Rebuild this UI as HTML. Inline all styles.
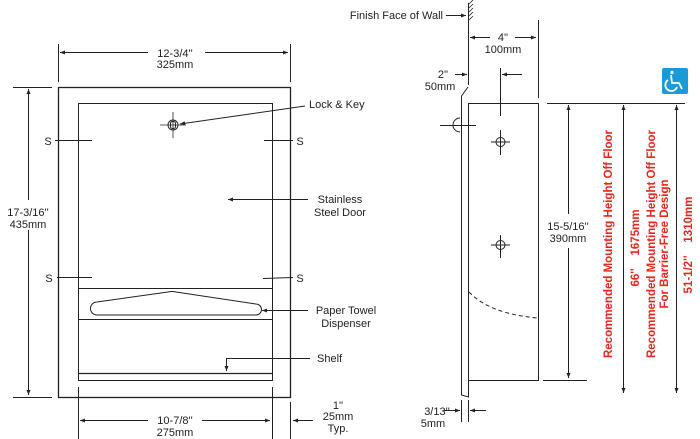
<!DOCTYPE html>
<html><head><meta charset="utf-8"><style>
html,body{margin:0;padding:0;background:#fff;}
svg{display:block;}
text{font-family:"Liberation Sans",sans-serif;font-size:11px;fill:#222;}
.r{fill:#e8261c;font-weight:bold;font-size:11.5px;white-space:pre;}
</style></head><body>
<svg width="700" height="439" viewBox="0 0 700 439" xmlns="http://www.w3.org/2000/svg">
<defs>
<marker id="a" viewBox="0 0 10 10" refX="10" refY="5" markerWidth="7" markerHeight="5" orient="auto-start-reverse" markerUnits="userSpaceOnUse"><path d="M0,1 L10,5 L0,9 z" fill="#222"/></marker>
</defs>
<g stroke="#222" fill="none" stroke-width="1">
<rect x="58.5" y="87.5" width="232" height="310" stroke-width="1.3"/>
<rect x="78.5" y="103.5" width="194" height="277"/>
<line x1="78" y1="288.5" x2="272" y2="288.5"/>
<line x1="78" y1="319.5" x2="272" y2="319.5"/>
<line x1="78" y1="373.5" x2="272" y2="373.5" stroke-width="1.3"/>
<path d="M97,302 L168,292 Q172,291 176,292 L256,304 A5.5,5.5 0 0 1 256,315 L97,315 A6.5,6.5 0 0 1 97,302 Z"/>
<circle cx="173" cy="125" r="5"/>
<rect x="170.5" y="121.5" width="5" height="7" rx="2"/>
<line x1="160" y1="125" x2="186" y2="125" stroke-width="0.8"/>
<line x1="173" y1="112" x2="173" y2="138" stroke-width="0.8"/>
<line x1="55" y1="140.5" x2="92" y2="140.5"/><line x1="264" y1="140.5" x2="293" y2="140.5"/>
<line x1="57" y1="277.5" x2="92" y2="277.5"/><line x1="263" y1="278.5" x2="293" y2="277.5"/>
<line x1="58.5" y1="44" x2="58.5" y2="82"/><line x1="290.5" y1="44" x2="290.5" y2="82"/>
<line x1="60" y1="52.5" x2="148" y2="52.5" marker-start="url(#a)"/>
<line x1="205" y1="52.5" x2="288" y2="52.5" marker-end="url(#a)"/>
<line x1="13" y1="87.5" x2="52" y2="87.5"/><line x1="13" y1="397.5" x2="52" y2="397.5"/>
<line x1="28.5" y1="89" x2="28.5" y2="200" marker-start="url(#a)"/>
<line x1="28.5" y1="230" x2="28.5" y2="395" marker-end="url(#a)"/>
<line x1="78.5" y1="387" x2="78.5" y2="439"/><line x1="272.5" y1="387" x2="272.5" y2="439"/>
<line x1="80" y1="420.5" x2="148" y2="420.5" marker-start="url(#a)"/>
<line x1="202" y1="420.5" x2="270" y2="420.5" marker-end="url(#a)"/>
<line x1="290.5" y1="402" x2="290.5" y2="439"/>
<line x1="313" y1="420.5" x2="293" y2="420.5" marker-end="url(#a)"/>
<line x1="305" y1="106" x2="180" y2="124" marker-end="url(#a)"/>
<line x1="308" y1="199.5" x2="228" y2="199.5" marker-end="url(#a)"/>
<line x1="308" y1="310.5" x2="262" y2="310.5" marker-end="url(#a)"/>
<polyline points="310,358.5 226.5,358.5 226.5,371" marker-end="url(#a)"/>
<line x1="468.5" y1="3" x2="468.5" y2="85"/>
<path d="M469,4 l4,-4 M469,8 l4,-4 M469,12 l4,-4 M469,16 l4,-4 M469,20 l4,-4" stroke-width="0.8"/>
<line x1="446" y1="15.5" x2="466" y2="15.5" marker-end="url(#a)"/>
<line x1="538.5" y1="20" x2="538.5" y2="98"/>
<line x1="470" y1="37.5" x2="490" y2="37.5" marker-start="url(#a)"/>
<line x1="515" y1="37.5" x2="536" y2="37.5" marker-end="url(#a)"/>
<line x1="455" y1="74.5" x2="467" y2="74.5" marker-end="url(#a)"/>
<line x1="522" y1="74.5" x2="502" y2="74.5" marker-end="url(#a)"/>
<line x1="500.5" y1="68" x2="500.5" y2="116"/>
<rect x="468.5" y="103.5" width="70" height="277"/>
<path d="M468,87 L461.5,96 L461.5,395 L468.5,397 L468.5,380"/>
<path d="M460,118 A7,7 0 0 0 460,132"/>
<line x1="440" y1="125.5" x2="476" y2="125.5"/>
<circle cx="500.5" cy="142" r="4.5"/>
<line x1="491" y1="142" x2="510" y2="142"/><line x1="500.5" y1="130" x2="500.5" y2="155"/>
<circle cx="500.5" cy="245" r="4.5"/>
<line x1="491" y1="245" x2="510" y2="245"/><line x1="500.5" y1="235" x2="500.5" y2="258"/>
<path d="M469,292 Q490,314 538,318" stroke-dasharray="4,3"/>
<line x1="547" y1="103.5" x2="685" y2="103.5"/>
<line x1="543" y1="380.5" x2="587" y2="380.5"/>
<line x1="568.5" y1="214" x2="568.5" y2="105" marker-end="url(#a)"/>
<line x1="568.5" y1="248" x2="568.5" y2="378" marker-end="url(#a)"/>
<line x1="623.5" y1="393" x2="623.5" y2="105" marker-start="url(#a)" marker-end="url(#a)"/>
<line x1="676.5" y1="393" x2="676.5" y2="105" marker-start="url(#a)" marker-end="url(#a)"/>
<line x1="461.5" y1="400" x2="461.5" y2="422"/><line x1="468.5" y1="400" x2="468.5" y2="422"/>
<line x1="444" y1="410.5" x2="460" y2="410.5" marker-end="url(#a)"/>
<line x1="486" y1="410.5" x2="470" y2="410.5" marker-end="url(#a)"/>
</g>
<rect x="662" y="68" width="26" height="26" rx="2" fill="#1a9ad6"/>
<g stroke="#fff" fill="none" stroke-width="1.8">
<circle cx="672" cy="72.5" r="1.6" fill="#fff" stroke="none"/>
<path d="M671,75 L672,83 L679,83 L682,89"/>
<path d="M668,80 A6,6 0 1 0 677,87"/>
</g>
<text x="175" y="57" text-anchor="middle">12-3/4''</text>
<text x="175" y="68" text-anchor="middle">325mm</text>
<text x="28" y="216" text-anchor="middle">17-3/16''</text>
<text x="28" y="228" text-anchor="middle">435mm</text>
<text x="48" y="145" text-anchor="middle">S</text><text x="300" y="145" text-anchor="middle">S</text>
<text x="49" y="282" text-anchor="middle">S</text><text x="300" y="282" text-anchor="middle">S</text>
<text x="309" y="108">Lock &amp; Key</text>
<text x="340" y="203" text-anchor="middle">Stainless</text>
<text x="340" y="216" text-anchor="middle">Steel Door</text>
<text x="346" y="314" text-anchor="middle">Paper Towel</text>
<text x="346" y="327" text-anchor="middle">Dispenser</text>
<text x="317" y="362">Shelf</text>
<text x="175" y="424" text-anchor="middle">10-7/8''</text>
<text x="175" y="436" text-anchor="middle">275mm</text>
<text x="338" y="409" text-anchor="middle">1''</text>
<text x="338" y="420" text-anchor="middle">25mm</text>
<text x="338" y="432" text-anchor="middle">Typ.</text>
<text x="443" y="19" text-anchor="end">Finish Face of Wall</text>
<text x="503" y="41" text-anchor="middle">4''</text>
<text x="503" y="53" text-anchor="middle">100mm</text>
<text x="443" y="78" text-anchor="middle">2''</text>
<text x="440" y="90" text-anchor="middle">50mm</text>
<text x="568" y="230" text-anchor="middle">15-5/16''</text>
<text x="568" y="242" text-anchor="middle">390mm</text>
<text x="437" y="415" text-anchor="middle">3/13''</text>
<text x="433" y="427" text-anchor="middle">5mm</text>
<text class="r" transform="translate(612,244) rotate(-90)" text-anchor="middle">Recommended Mounting Height Off Floor</text>
<text class="r" transform="translate(639,248) rotate(-90)" text-anchor="middle">66''    1675mm</text>
<text class="r" transform="translate(655,244) rotate(-90)" text-anchor="middle">Recommended Mounting Height Off Floor</text>
<text class="r" transform="translate(668,244) rotate(-90)" text-anchor="middle">For Barrier-Free Design</text>
<text class="r" transform="translate(692,245) rotate(-90)" text-anchor="middle">51-1/2''    1310mm</text>
</svg>
</body></html>
